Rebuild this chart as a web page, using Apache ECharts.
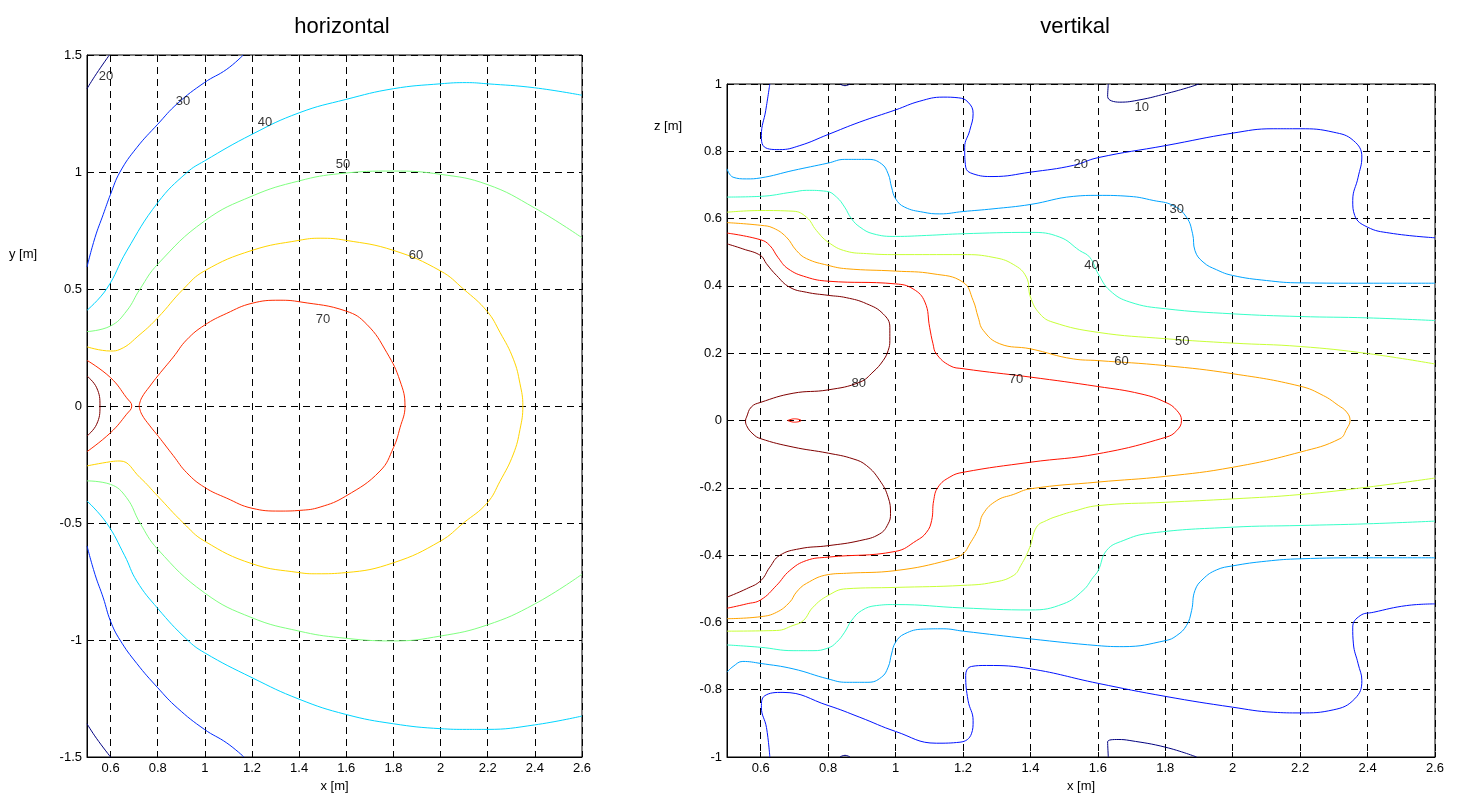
<!DOCTYPE html>
<html>
<head>
<meta charset="utf-8">
<script src="https://cdn.jsdelivr.net/npm/echarts/dist/echarts.min.js"></script>
<style>
  html, body { margin: 0; padding: 0; background: #fff; }
  #main { width: 1460px; height: 798px; }
</style>
</head>
<body>
<div id="main"></div>
<script>
// ---- axis ticks ----
var xTicks = [0.6, 0.8, 1, 1.2, 1.4, 1.6, 1.8, 2, 2.2, 2.4, 2.6];

// ---- left plot "horizontal" (x, y) contour pieces ----
var h20top = [[0.5,1.356],[0.54,1.42],[0.595,1.5]];
var h20bot = [[0.5,-1.358],[0.54,-1.42],[0.6,-1.5]];
var h30top = [[0.5,0.594],[0.534,0.72],[0.569,0.819],[0.6,0.905],[0.64,1.0],[0.711,1.104],[0.8,1.204],[0.883,1.292],[0.998,1.382],[1.093,1.439],[1.163,1.5]];
var h30bot = [[0.5,-0.598],[0.534,-0.72],[0.569,-0.82],[0.6,-0.92],[0.64,-1.0],[0.711,-1.1],[0.8,-1.204],[0.883,-1.29],[0.998,-1.382],[1.093,-1.44],[1.166,-1.5]];
var h40top = [[0.5,0.409],[0.583,0.5],[0.668,0.662],[0.8,0.869],[0.923,0.997],[0.998,1.047],[1.2,1.161],[1.4,1.253],[1.598,1.31],[1.8,1.356],[2.0,1.377],[2.11,1.382],[2.197,1.377],[2.398,1.36],[2.6,1.328]];
var h40bot = [[0.5,-0.406],[0.583,-0.5],[0.66,-0.64],[0.711,-0.748],[0.8,-0.865],[0.923,-0.997],[0.998,-1.054],[1.2,-1.161],[1.4,-1.253],[1.598,-1.318],[1.8,-1.358],[2.0,-1.379],[2.11,-1.382],[2.197,-1.382],[2.398,-1.363],[2.6,-1.325]];
var h50top = [[0.5,0.318],[0.6,0.342],[0.668,0.406],[0.725,0.5],[0.8,0.606],[0.998,0.79],[1.2,0.897],[1.4,0.962],[1.573,0.993],[1.8,1.004],[2.0,0.99],[2.197,0.947],[2.398,0.847],[2.6,0.719]];
var h50bot = [[0.5,-0.32],[0.6,-0.335],[0.668,-0.392],[0.725,-0.5],[0.8,-0.612],[0.998,-0.798],[1.2,-0.905],[1.4,-0.962],[1.573,-0.99],[1.8,-1.004],[2.0,-0.983],[2.197,-0.936],[2.398,-0.847],[2.6,-0.719]];
var h60 = [[0.5,0.253],[0.6,0.235],[0.64,0.242],[0.725,0.306],[0.8,0.377],[0.909,0.5],[0.998,0.577],[1.2,0.665],[1.4,0.708],[1.489,0.717],[1.598,0.708],[1.8,0.665],[2.0,0.577],[2.097,0.5],[2.197,0.405],[2.252,0.315],[2.309,0.2],[2.337,0.095],[2.349,0],[2.337,-0.1],[2.309,-0.205],[2.252,-0.322],[2.197,-0.415],[2.097,-0.5],[2.0,-0.577],[1.8,-0.67],[1.598,-0.712],[1.475,-0.717],[1.4,-0.712],[1.2,-0.674],[0.998,-0.577],[0.909,-0.5],[0.8,-0.385],[0.725,-0.306],[0.64,-0.235],[0.6,-0.238],[0.5,-0.256]];
var h70left = [[0.5,0.195],[0.6,0.121],[0.668,0.035],[0.69,0],[0.668,-0.035],[0.6,-0.114],[0.5,-0.195]];
var h70loop = [[0.721,0],[0.732,0.035],[0.767,0.085],[0.803,0.132],[0.866,0.209],[0.923,0.283],[0.998,0.345],[1.093,0.396],[1.2,0.439],[1.319,0.452],[1.404,0.445],[1.598,0.406],[1.687,0.349],[1.772,0.228],[1.828,0.107],[1.849,0],[1.828,-0.093],[1.8,-0.178],[1.743,-0.278],[1.598,-0.385],[1.489,-0.432],[1.404,-0.446],[1.319,-0.449],[1.2,-0.437],[1.093,-0.394],[0.998,-0.347],[0.923,-0.285],[0.866,-0.212],[0.803,-0.13],[0.767,-0.085],[0.732,-0.035],[0.721,0]];
var h80 = [[0.5,0.128],[0.541,0.078],[0.555,0],[0.541,-0.078],[0.5,-0.128]];
var hLabels = [[0.581,1.41,'20'],[0.907,1.303,'30'],[1.255,1.214,'40'],[1.586,1.034,'50'],[1.896,0.645,'60'],[1.501,0.368,'70']];

// ---- right plot "vertikal" (x, z) contour pieces ----
var v10top = [[1.631,1.0],[1.629,0.963],[1.665,0.946],[1.725,0.953],[1.801,0.971],[1.863,0.988],[1.9,1.0]];
var v10bot = [[1.631,-1.0],[1.629,-0.955],[1.66,-0.948],[1.695,-0.951],[1.801,-0.971],[1.893,-1.0]];
var v10dotTop = [[0.835,1.0],[0.85,0.995],[0.865,1.0]];
var v10dotBot = [[0.835,-1.0],[0.85,-0.995],[0.865,-1.0]];
var v20top = [[0.627,1.0],[0.615,0.922],[0.602,0.847],[0.607,0.817],[0.656,0.805],[0.716,0.817],[0.8,0.85],[0.894,0.887],[1.0,0.923],[1.072,0.949],[1.141,0.961],[1.186,0.959],[1.215,0.946],[1.23,0.912],[1.22,0.862],[1.205,0.812],[1.208,0.753],[1.23,0.733],[1.289,0.725],[1.4,0.738],[1.527,0.758],[1.6,0.781],[1.801,0.817],[2.0,0.854],[2.12,0.867],[2.2,0.867],[2.298,0.857],[2.358,0.832],[2.383,0.783],[2.372,0.723],[2.356,0.654],[2.362,0.609],[2.399,0.575],[2.466,0.557],[2.6,0.543]];
var v20bot = [[0.627,-1.0],[0.617,-0.912],[0.602,-0.852],[0.612,-0.818],[0.666,-0.808],[0.8,-0.847],[0.894,-0.882],[1.0,-0.924],[1.121,-0.959],[1.191,-0.956],[1.225,-0.931],[1.23,-0.892],[1.215,-0.832],[1.208,-0.758],[1.225,-0.731],[1.27,-0.728],[1.4,-0.738],[1.6,-0.781],[1.801,-0.82],[2.0,-0.852],[2.12,-0.867],[2.2,-0.869],[2.298,-0.86],[2.362,-0.827],[2.383,-0.773],[2.372,-0.723],[2.358,-0.664],[2.356,-0.614],[2.378,-0.58],[2.417,-0.57],[2.516,-0.55],[2.6,-0.545]];
var v30top = [[0.5,0.748],[0.518,0.723],[0.558,0.718],[0.6,0.721],[0.696,0.743],[0.8,0.765],[0.849,0.776],[0.918,0.776],[0.958,0.763],[0.978,0.733],[0.988,0.694],[1.0,0.659],[1.027,0.634],[1.082,0.619],[1.131,0.614],[1.2,0.621],[1.289,0.629],[1.4,0.642],[1.527,0.666],[1.6,0.669],[1.695,0.666],[1.764,0.654],[1.823,0.639],[1.863,0.604],[1.881,0.555],[1.888,0.505],[1.912,0.471],[1.952,0.448],[2.0,0.431],[2.1,0.416],[2.2,0.409],[2.4,0.408],[2.6,0.408]];
var v30bot = [[0.5,-0.748],[0.518,-0.731],[0.547,-0.716],[0.6,-0.722],[0.696,-0.738],[0.8,-0.768],[0.854,-0.778],[0.918,-0.778],[0.958,-0.763],[0.978,-0.733],[0.988,-0.694],[1.0,-0.659],[1.027,-0.634],[1.082,-0.62],[1.141,-0.619],[1.2,-0.626],[1.4,-0.649],[1.6,-0.669],[1.675,-0.672],[1.801,-0.654],[1.834,-0.639],[1.863,-0.609],[1.878,-0.565],[1.888,-0.505],[1.912,-0.471],[1.952,-0.444],[2.0,-0.432],[2.1,-0.418],[2.2,-0.411],[2.4,-0.408],[2.6,-0.408]];
var v40top = [[0.5,0.664],[0.597,0.666],[0.696,0.679],[0.736,0.684],[0.795,0.681],[0.825,0.664],[0.849,0.634],[0.869,0.6],[0.894,0.575],[0.933,0.555],[1.0,0.547],[1.092,0.55],[1.2,0.555],[1.4,0.559],[1.487,0.545],[1.546,0.505],[1.576,0.485],[1.601,0.436],[1.636,0.386],[1.695,0.352],[1.801,0.332],[2.0,0.317],[2.2,0.309],[2.4,0.305],[2.6,0.297]];
var v40bot = [[0.5,-0.667],[0.6,-0.674],[0.696,-0.684],[0.755,-0.684],[0.8,-0.676],[0.825,-0.659],[0.849,-0.629],[0.869,-0.595],[0.899,-0.565],[0.943,-0.55],[1.0,-0.547],[1.2,-0.557],[1.4,-0.563],[1.497,-0.545],[1.556,-0.505],[1.586,-0.466],[1.601,-0.446],[1.626,-0.386],[1.675,-0.357],[1.754,-0.335],[2.0,-0.317],[2.2,-0.312],[2.4,-0.307],[2.6,-0.299]];
var v50top = [[0.5,0.619],[0.6,0.624],[0.696,0.622],[0.736,0.604],[0.765,0.565],[0.8,0.53],[0.854,0.503],[0.914,0.496],[1.0,0.493],[1.2,0.493],[1.289,0.485],[1.349,0.464],[1.388,0.426],[1.4,0.367],[1.428,0.317],[1.467,0.292],[1.6,0.262],[1.801,0.243],[2.0,0.23],[2.2,0.22],[2.4,0.199],[2.6,0.168]];
var v50bot = [[0.5,-0.626],[0.647,-0.624],[0.696,-0.609],[0.726,-0.595],[0.755,-0.555],[0.8,-0.52],[0.854,-0.5],[1.0,-0.496],[1.2,-0.49],[1.289,-0.481],[1.349,-0.461],[1.372,-0.43],[1.398,-0.377],[1.418,-0.317],[1.448,-0.297],[1.487,-0.282],[1.527,-0.27],[1.6,-0.253],[1.801,-0.243],[2.0,-0.233],[2.2,-0.22],[2.4,-0.198],[2.6,-0.171]];
var v60 = [[0.5,0.588],[0.6,0.58],[0.637,0.572],[0.676,0.545],[0.706,0.505],[0.736,0.481],[0.8,0.461],[0.854,0.451],[1.0,0.444],[1.111,0.436],[1.2,0.411],[1.23,0.357],[1.245,0.307],[1.26,0.268],[1.309,0.228],[1.4,0.213],[1.527,0.183],[1.6,0.178],[1.801,0.163],[2.0,0.139],[2.2,0.102],[2.269,0.074],[2.313,0.045],[2.338,0.025],[2.348,0],[2.338,-0.025],[2.318,-0.054],[2.2,-0.094],[2.0,-0.139],[1.801,-0.166],[1.6,-0.183],[1.4,-0.203],[1.349,-0.22],[1.3,-0.238],[1.26,-0.277],[1.245,-0.322],[1.22,-0.367],[1.2,-0.396],[1.161,-0.414],[1.0,-0.446],[0.854,-0.454],[0.8,-0.458],[0.736,-0.484],[0.706,-0.51],[0.686,-0.54],[0.647,-0.57],[0.6,-0.583],[0.5,-0.589]];
var v70 = [[0.5,0.557],[0.6,0.537],[0.627,0.52],[0.651,0.485],[0.681,0.451],[0.736,0.426],[0.8,0.414],[1.0,0.406],[1.052,0.391],[1.087,0.352],[1.101,0.277],[1.111,0.228],[1.121,0.198],[1.161,0.163],[1.2,0.154],[1.4,0.129],[1.6,0.101],[1.728,0.079],[1.801,0.054],[1.834,0.03],[1.848,0],[1.834,-0.03],[1.801,-0.05],[1.6,-0.099],[1.4,-0.124],[1.2,-0.154],[1.161,-0.168],[1.126,-0.198],[1.113,-0.238],[1.107,-0.297],[1.092,-0.332],[1.062,-0.357],[1.0,-0.389],[0.8,-0.406],[0.736,-0.416],[0.686,-0.446],[0.647,-0.49],[0.6,-0.533],[0.558,-0.545],[0.5,-0.558]];
var v70dot = [[0.68,0],[0.7,0.005],[0.72,0],[0.7,-0.005],[0.68,0]];
var v80 = [[0.5,0.525],[0.547,0.51],[0.6,0.49],[0.617,0.466],[0.647,0.431],[0.686,0.396],[0.736,0.381],[0.8,0.372],[0.854,0.365],[0.914,0.347],[0.963,0.317],[0.983,0.277],[0.983,0.238],[0.978,0.208],[0.963,0.178],[0.933,0.144],[0.894,0.114],[0.8,0.091],[0.696,0.081],[0.6,0.054],[0.572,0.04],[0.558,0.01],[0.555,0],[0.558,-0.015],[0.577,-0.04],[0.6,-0.054],[0.696,-0.079],[0.8,-0.097],[0.874,-0.114],[0.914,-0.134],[0.953,-0.178],[0.978,-0.228],[0.985,-0.277],[0.978,-0.307],[0.953,-0.337],[0.894,-0.357],[0.8,-0.372],[0.716,-0.381],[0.656,-0.401],[0.627,-0.436],[0.6,-0.476],[0.558,-0.5],[0.5,-0.525]];
var vLabels = [[1.73,0.931,'10'],[1.549,0.761,'20'],[1.834,0.627,'30'],[1.581,0.461,'40'],[1.85,0.235,'50'],[1.67,0.175,'60'],[1.357,0.121,'70'],[0.891,0.111,'80']];

var FONT = '"Liberation Sans", Arial, sans-serif';

var chart = echarts.init(document.getElementById('main'));

// one contour piece
function contour(data, color, idx) {
    return {
        type: 'line',
        xAxisIndex: idx,
        yAxisIndex: idx,
        data: data,
        showSymbol: false,
        smooth: 0.45,
        silent: true,
        lineStyle: { color: color, width: 1 },
        z: 3
    };
}
function labels(data, idx) {
    return {
        type: 'scatter',
        xAxisIndex: idx,
        yAxisIndex: idx,
        data: data,
        symbolSize: 1,
        itemStyle: { color: 'rgba(0,0,0,0)' },
        silent: true,
        z: 5,
        label: {
            show: true,
            position: 'inside',
            formatter: function (p) { return p.value[2]; },
            color: '#000',
            fontSize: 13,
            fontFamily: FONT
        }
    };
}
function xAxisCfg(idx) {
    return {
        type: 'value',
        gridIndex: idx,
        min: 0.5,
        max: 2.6,
        name: 'x [m]',
        nameLocation: 'middle',
        nameGap: 22,
        nameTextStyle: { color: '#000', fontSize: 13, fontFamily: FONT },
        axisLine: { show: true, onZero: false, lineStyle: { color: '#000', width: 1 } },
        axisTick: { show: true, inside: true, length: 5, customValues: xTicks, lineStyle: { color: '#000' } },
        axisLabel: { customValues: xTicks, color: '#000', fontSize: 13, fontFamily: FONT, margin: 5 },
        splitLine: { show: true, lineStyle: { color: '#000', type: [7, 5], width: 1 } }
    };
}
function yAxisCfg(idx, min, max, step) {
    return {
        type: 'value',
        gridIndex: idx,
        min: min,
        max: max,
        interval: step,
        axisLine: { show: true, onZero: false, lineStyle: { color: '#000', width: 1 } },
        axisTick: { show: true, inside: true, length: 5, lineStyle: { color: '#000' } },
        axisLabel: { color: '#000', fontSize: 13, fontFamily: FONT, margin: 5 },
        splitLine: { show: true, lineStyle: { color: '#000', type: [7, 5], width: 1 } }
    };
}

// jet colours
var jetL = { 20: '#000080', 30: '#002bff', 40: '#00d5ff', 50: '#80ff80', 60: '#ffd500', 70: '#ff2b00', 80: '#800000' };
var jetR = { 10: '#000080', 20: '#0012ff', 30: '#00a4ff', 40: '#37ffc8', 50: '#c8ff37', 60: '#ffa400', 70: '#ff1200', 80: '#800000' };

var series = [
    contour(h20top, jetL[20], 0), contour(h20bot, jetL[20], 0),
    contour(h30top, jetL[30], 0), contour(h30bot, jetL[30], 0),
    contour(h40top, jetL[40], 0), contour(h40bot, jetL[40], 0),
    contour(h50top, jetL[50], 0), contour(h50bot, jetL[50], 0),
    contour(h60, jetL[60], 0),
    contour(h70left, jetL[70], 0), contour(h70loop, jetL[70], 0),
    contour(h80, jetL[80], 0),
    labels(hLabels, 0),

    contour(v10top, jetR[10], 1), contour(v10bot, jetR[10], 1),
    contour(v10dotTop, jetR[10], 1), contour(v10dotBot, jetR[10], 1),
    contour(v20top, jetR[20], 1), contour(v20bot, jetR[20], 1),
    contour(v30top, jetR[30], 1), contour(v30bot, jetR[30], 1),
    contour(v40top, jetR[40], 1), contour(v40bot, jetR[40], 1),
    contour(v50top, jetR[50], 1), contour(v50bot, jetR[50], 1),
    contour(v60, jetR[60], 1),
    contour(v70, jetR[70], 1), contour(v70dot, jetR[70], 1),
    contour(v80, jetR[80], 1),
    labels(vLabels, 1)
];

var option = {
    backgroundColor: '#fff',
    animation: false,
    title: [
        { text: 'horizontal', left: 337, top: 11, textAlign: 'center',
          textStyle: { fontSize: 22, fontWeight: 'normal', color: '#000', fontFamily: FONT } },
        { text: 'vertikal', left: 1070, top: 11, textAlign: 'center',
          textStyle: { fontSize: 22, fontWeight: 'normal', color: '#000', fontFamily: FONT } }
    ],
    graphic: [
        { type: 'text', left: 9, top: 248, style: { text: 'y [m]', font: '13px ' + FONT, fill: '#000' } },
        { type: 'text', left: 654, top: 120, style: { text: 'z [m]', font: '13px ' + FONT, fill: '#000' } }
    ],
    grid: [
        { left: 87, top: 55, width: 495, height: 702, show: true, borderColor: '#000', borderWidth: 1, backgroundColor: '#fff' },
        { left: 727, top: 84, width: 708, height: 673, show: true, borderColor: '#000', borderWidth: 1, backgroundColor: '#fff' }
    ],
    xAxis: [xAxisCfg(0), xAxisCfg(1)],
    yAxis: [yAxisCfg(0, -1.5, 1.5, 0.5), yAxisCfg(1, -1, 1, 0.2)],
    series: series
};

chart.setOption(option);
</script>
</body>
</html>
